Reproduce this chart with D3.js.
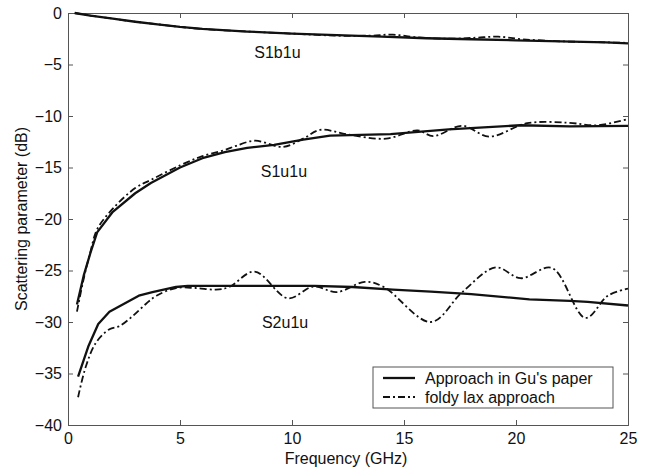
<!DOCTYPE html>
<html lang="en">
<head>
    <meta charset="UTF-8">
    <title>Scattering parameter</title>
    <script src="https://cdn.jsdelivr.net/npm/d3@7"></script>
    <style>
        body { margin: 0; background: #fff; }
        text { font-family: "Liberation Sans", Arial, sans-serif; fill: #111; }
        .axis path, .axis line { stroke: #555; }
    </style>
</head>
<body>
    <svg width="654" height="472"></svg>

    <script>
        // Data: [frequency GHz, dB]
        var s1b1uGu = [[0.3, 0], [1, -0.25], [2, -0.55], [3, -0.85], [4, -1.1], [5, -1.35], [6, -1.55],
            [8, -1.8], [10, -2.0], [12, -2.15], [14, -2.3], [16, -2.45], [18, -2.55], [20, -2.65],
            [22, -2.75], [24, -2.85], [25, -2.95]];
        var s1b1uFoldy = [[0.3, 0], [1, -0.25], [2, -0.55], [3, -0.85], [4, -1.1], [5, -1.35], [6, -1.55],
            [8, -1.8], [10, -2.0], [12, -2.2], [13.5, -2.2], [14.5, -2.1], [15.5, -2.35], [17, -2.5],
            [18.2, -2.4], [19.2, -2.3], [20.3, -2.55], [22, -2.75], [24, -2.85], [25, -2.9]];

        var s1u1uGu = [[0.4, -28.3], [0.7, -25.5], [1, -23.3], [1.3, -21.3], [2, -19.3], [3, -17.5],
            [3.7, -16.5], [5, -15.0], [6, -14.1], [7, -13.5], [8, -13.1], [9.2, -12.8], [10.5, -12.3],
            [11.7, -11.9], [14.4, -11.75], [17, -11.3], [20.2, -10.9], [22.4, -11.0], [25, -10.95]];
        var s1u1uFoldy = [[0.4, -29.0], [0.7, -25.8], [1, -23.2], [1.3, -21.0], [2, -19.0], [3, -17.0],
            [3.7, -16.2], [5, -14.8], [6, -13.9], [7, -13.3], [7.5, -12.9], [8.35, -12.4], [9.6, -13.0],
            [10.5, -12.2], [11.25, -11.35], [12.5, -11.8], [14.2, -12.2], [15.6, -11.4], [16.3, -11.95],
            [17.6, -10.95], [18.8, -12.0], [20.5, -10.7], [22.3, -10.65], [23.6, -10.9], [25, -10.3]];

        var s2u1uGu = [[0.45, -35.3], [0.92, -32.3], [1.35, -30.2], [1.85, -29.0], [3.16, -27.45],
            [3.77, -27.1], [4.82, -26.6], [5.35, -26.5], [7.5, -26.5], [11, -26.5], [12.7, -26.6],
            [14.5, -26.85], [16.2, -27.05], [18, -27.3], [20.6, -27.8], [22.4, -27.95], [23.2, -28.05],
            [25, -28.4]];
        var s2u1uFoldy = [[0.45, -37.3], [0.8, -34.3], [1.25, -32.0], [1.85, -30.7], [2.3, -30.4],
            [2.9, -29.4], [3.5, -28.2], [3.95, -27.45], [4.82, -26.7], [5.7, -26.7], [6.6, -26.85],
            [7.2, -26.6], [8.33, -25.1], [9.82, -27.7], [10.96, -26.55], [12.0, -27.1], [13.25, -26.1],
            [14.1, -26.6], [16.2, -30.0], [17.6, -27.1], [19.1, -24.7], [20.2, -25.75], [21.6, -24.75],
            [23.1, -29.6], [24.1, -27.45], [25, -26.75]];

        var curveLabels = [
            { text: "S1b1u", f: 9.35, db: -4.4 },
            { text: "S1u1u", f: 9.64, db: -15.9 },
            { text: "S2u1u", f: 9.69, db: -30.6 }
        ];
        var legendItems = ["Approach in Gu's paper", "foldy lax approach"];
        var xTicks = [0, 5, 10, 15, 20, 25];
        var yTicks = [0, -5, -10, -15, -20, -25, -30, -35, -40];

        var plotLeft = 68, plotRight = 628, plotTop = 13, plotBottom = 425;

        var svg = d3.select("svg");

        var x = d3.scaleLinear().domain([0, 25]).range([plotLeft, plotRight]);
        var y = d3.scaleLinear().domain([-40, 0]).range([plotBottom, plotTop]);

        // Box with inward ticks on all four sides
        svg.append("g").attr("class", "axis")
            .attr("transform", "translate(0," + plotBottom + ")")
            .call(d3.axisBottom(x).tickValues(xTicks).tickSize(-5).tickPadding(8))
            .call(function(g) { g.selectAll("text").style("font-size", "16px"); });
        svg.append("g").attr("class", "axis")
            .attr("transform", "translate(0," + plotTop + ")")
            .call(d3.axisTop(x).tickValues(xTicks).tickSize(-5).tickFormat(""));
        svg.append("g").attr("class", "axis")
            .attr("transform", "translate(" + plotLeft + ",0)")
            .call(d3.axisLeft(y).tickValues(yTicks).tickSize(-5).tickPadding(6))
            .call(function(g) { g.selectAll("text").style("font-size", "16px"); });
        svg.append("g").attr("class", "axis")
            .attr("transform", "translate(" + plotRight + ",0)")
            .call(d3.axisRight(y).tickValues(yTicks).tickSize(-5).tickFormat(""));
        svg.selectAll(".axis .domain").attr("stroke-width", 1);

        // Gu's results are coarse (straight segments), foldy lax ones are smooth
        var lineGu = d3.line()
            .x(function(d) { return x(d[0]); })
            .y(function(d) { return y(d[1]); });
        var lineFoldy = d3.line()
            .x(function(d) { return x(d[0]); })
            .y(function(d) { return y(d[1]); })
            .curve(d3.curveCatmullRom.alpha(0.5));

        var solid = [s1b1uGu, s1u1uGu, s2u1uGu];
        var dashed = [s1b1uFoldy, s1u1uFoldy, s2u1uFoldy];

        svg.append("g").selectAll("path")
            .data(dashed)
            .enter().append("path")
            .attr("d", lineFoldy)
            .attr("fill", "none")
            .attr("stroke", "#111")
            .attr("stroke-width", 1.8)
            .attr("stroke-dasharray", "7,3,2,3");

        svg.append("g").selectAll("path")
            .data(solid)
            .enter().append("path")
            .attr("d", lineGu)
            .attr("fill", "none")
            .attr("stroke", "#111")
            .attr("stroke-width", 2.3)
            .attr("stroke-linejoin", "round");

        svg.append("g").selectAll("text")
            .data(curveLabels)
            .enter().append("text")
            .attr("x", function(d) { return x(d.f); })
            .attr("y", function(d) { return y(d.db); })
            .attr("text-anchor", "middle")
            .style("font-size", "16px")
            .text(function(d) { return d.text; });

        // Axis titles
        svg.append("text")
            .attr("x", 346)
            .attr("y", 464)
            .attr("text-anchor", "middle")
            .style("font-size", "16px")
            .text("Frequency (GHz)");
        svg.append("text")
            .attr("transform", "translate(27," + (plotTop + plotBottom) / 2 + ") rotate(-90)")
            .attr("text-anchor", "middle")
            .style("font-size", "16px")
            .text("Scattering parameter (dB)");

        // Legend
        var legend = svg.append("g").attr("transform", "translate(373,367)");
        legend.append("rect")
            .attr("width", 240).attr("height", 41)
            .attr("fill", "#fff").attr("stroke", "#555");
        var row = legend.selectAll("g")
            .data(legendItems)
            .enter().append("g")
            .attr("transform", function(d, i) { return "translate(0," + (11 + i * 19) + ")"; });
        row.append("line")
            .attr("x1", 10).attr("x2", 42)
            .attr("stroke", "#111")
            .attr("stroke-width", function(d, i) { return i === 0 ? 2.3 : 1.8; })
            .attr("stroke-dasharray", function(d, i) { return i === 0 ? null : "7,3,2,3"; });
        row.append("text")
            .attr("x", 52).attr("dy", "0.35em")
            .style("font-size", "16px")
            .text(function(d) { return d; });
    </script>
</body>
</html>
